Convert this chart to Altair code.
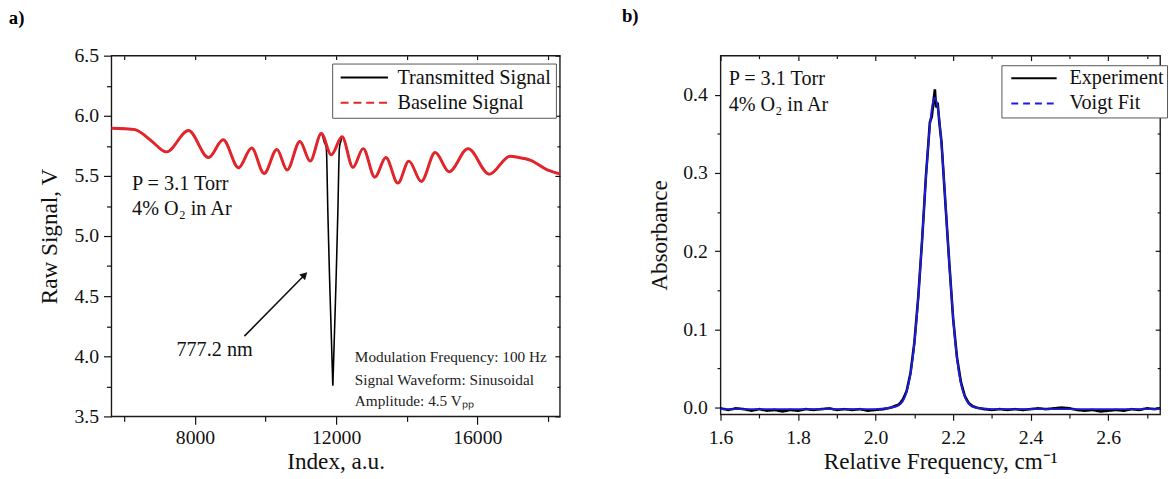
import altair as alt
import pandas as pd

FONT = "Liberation Serif"

# ---------------- panel a data ----------------
base_x = [5630, 6000, 6300, 6750, 7192, 7814, 8383, 8798, 9233, 9606, 9958, 10321, 10611, 10973,
          11263, 11581, 11860, 12168, 12476, 12766, 13097, 13408, 13750, 14061, 14413, 14807, 15200,
          15739, 16340, 16930, 17150, 17500, 18000, 18340]
base_y = [5.896, 5.893, 5.885, 5.795, 5.700, 5.877, 5.653, 5.800, 5.568, 5.732, 5.520, 5.720, 5.550, 5.787,
          5.623, 5.852, 5.675, 5.825, 5.571, 5.727, 5.489, 5.653, 5.440, 5.623, 5.454, 5.694, 5.535,
          5.727, 5.514, 5.664, 5.655, 5.631, 5.549, 5.518]
dip_x = [11581, 11665, 11721, 11765, 11813, 11860, 11896, 11906, 11916, 11953, 12000, 12048, 12092, 12135, 12168]
dip_y = [5.852, 5.780, 5.730, 5.200, 4.660, 4.200, 3.850, 3.760, 3.850, 4.200, 4.660, 5.200, 5.730, 5.790, 5.825]
series_a = ["Transmitted Signal", "Baseline Signal"]

big_text_a = ["P = 3.1 Torr", "4% O\u2082 in Ar", "777.2 nm"]
big_text_a_x = [6217, 6217, 7473]
big_text_a_y = [5.431, 5.226, 4.055]
small_text_a = ["Modulation Frequency: 100 Hz", "Signal Waveform: Sinusoidal", "Amplitude: 4.5 V\u209a\u209a"]
small_text_a_x = [12529, 12529, 12529]
small_text_a_y = [3.993, 3.801, 3.624]
arrow_from = [9400, 4.168]
arrow_to = [11084, 4.670]

# ---------------- panel b data ----------------
exp_x = [1.60, 1.62, 1.64, 1.66, 1.68, 1.70, 1.72, 1.74, 1.76, 1.78, 1.80, 1.82, 1.84, 1.86, 1.88, 1.90,
         1.92, 1.94, 1.96, 1.98, 2.00, 2.02, 2.04,
         2.05, 2.06, 2.07, 2.08, 2.09, 2.10, 2.11, 2.12, 2.13,
         2.135, 2.14, 2.145, 2.15, 2.153, 2.156, 2.16, 2.165, 2.17,
         2.18, 2.19, 2.20, 2.21, 2.22, 2.23, 2.24, 2.25, 2.26, 2.27,
         2.28, 2.30, 2.32, 2.34, 2.36, 2.38, 2.40, 2.42, 2.44, 2.46, 2.48, 2.50, 2.52, 2.54, 2.56, 2.58,
         2.60, 2.62, 2.64, 2.66, 2.68, 2.70, 2.72, 2.734]
exp_y = [-0.001, -0.003, -0.001, -0.002, -0.004, -0.002, -0.004, -0.003, -0.005, -0.003, -0.004, -0.002,
         -0.003, -0.002, -0.001, -0.003, -0.002, -0.003, -0.002, -0.004, -0.003, -0.002, 0.000,
         0.002, 0.004, 0.010, 0.021, 0.044, 0.083, 0.141, 0.214, 0.297,
         0.330, 0.365, 0.372, 0.395, 0.407, 0.384, 0.390, 0.362, 0.340,
         0.262, 0.186, 0.114, 0.064, 0.033, 0.015, 0.006, 0.002, 0.000, -0.001,
         -0.002, -0.003, -0.002, -0.003, -0.002, -0.003, -0.002, -0.001, -0.002, -0.001, 0.000, -0.001,
         -0.003, -0.004, -0.003, -0.005, -0.004, -0.003, -0.004, -0.002, -0.003, -0.001, -0.002, -0.001]
fit_x = [1.60, 2.00, 2.03, 2.05, 2.06, 2.07, 2.08, 2.09, 2.10, 2.11, 2.12, 2.13, 2.14, 2.15, 2.153,
         2.16, 2.17, 2.18, 2.19, 2.20, 2.21, 2.22, 2.23, 2.24, 2.25, 2.27, 2.30, 2.734]
fit_y = [-0.002, -0.002, -0.001, 0.001, 0.003, 0.008, 0.020, 0.043, 0.082, 0.140, 0.215, 0.295, 0.360,
         0.394, 0.396, 0.385, 0.337, 0.263, 0.184, 0.115, 0.063, 0.031, 0.014, 0.005, 0.001, -0.001,
         -0.002, -0.002]
series_b = ["Experiment", "Voigt Fit"]
big_text_b = ["P = 3.1 Torr"]
big_text_b_x = [1.621]
big_text_b_y = [0.420]
big_text_b2 = ["4% O\u2082 in Ar"]
big_text_b2_x = [1.621]
big_text_b2_y = [0.3875]

# ---------------- helpers ----------------
INK = "#111111"


def axis(orient, values, size, inward=False, labels=False, title=None, fmt=None, **kw):
    d = dict(orient=orient, values=values, grid=False, domain=False, labels=labels,
             tickColor=INK, tickWidth=1.2, labelFlush=False, labelOverlap=False,
             labelFont=FONT, titleFont=FONT, labelFontSize=20, titleFontSize=23.5,
             titleFontWeight="normal", labelColor=INK, titleColor=INK)
    d["tickSize"] = {"expr": str(-size)} if inward else size
    d["title"] = title
    if fmt:
        d["format"] = fmt
    d.update(kw)
    return alt.Axis(**d)


def legend(lx, ly, sym, symoff, laboff, pad):
    return alt.Legend(title=None, orient="none", legendX=lx, legendY=ly, direction="vertical",
                      symbolType="stroke", symbolSize=sym, symbolStrokeWidth=2, symbolOffset=symoff,
                      labelOffset=laboff, labelFont=FONT, labelFontSize=20.5, labelColor=INK,
                      labelLimit=400, padding=pad, rowPadding=4.5, clipHeight=20.5,
                      strokeColor="#555555", fillColor="white")


# ---------------- panel a ----------------
xa = alt.Scale(domain=[5630, 18340], nice=False, zero=False)
ya = alt.Scale(domain=[3.5, 6.5], nice=False, zero=False)
xa_major = [8000, 12000, 16000]
xa_minor = [6000, 10000, 14000, 18000]
ya_major = [3.5, 4.0, 4.5, 5.0, 5.5, 6.0, 6.5]
ya_minor = [3.75, 4.25, 4.75, 5.25, 5.75, 6.25]

leg_a = legend(224, 8, 2304, 3.6, 8.6, 4)
col_a = alt.Color("series:N", scale=alt.Scale(domain=series_a, range=["#000000", "#e3242b"]), legend=leg_a)
dash_a = alt.StrokeDash("series:N", scale=alt.Scale(domain=series_a, range=[[1, 0], [8, 5]]), legend=leg_a)

trans_pts = [(x, y) for x, y in zip(base_x, base_y) if x < dip_x[0]] + list(zip(dip_x, dip_y)) + \
            [(x, y) for x, y in zip(base_x, base_y) if x > dip_x[-1]]
df_trans = pd.DataFrame({"x": [p[0] for p in trans_pts], "y": [p[1] for p in trans_pts],
                         "series": series_a[0]})
df_base = pd.DataFrame({"x": base_x, "y": base_y, "series": series_a[1]})

l_trans = alt.Chart(df_trans).mark_line(strokeWidth=1.6, interpolate="monotone").encode(
    x=alt.X("x:Q", scale=xa, axis=axis("bottom", xa_major, 8, labels=True, title="Index, a.u.", fmt="d",
                                        labelPadding=3, titlePadding=3)),
    y=alt.Y("y:Q", scale=ya, axis=axis("left", ya_major, 8, labels=True, title="Raw Signal, V", fmt=".1f",
                                        labelPadding=5, titlePadding=13)),
    color=col_a, strokeDash=dash_a, order=alt.Order("x:Q"))
l_base = alt.Chart(df_base).mark_line(strokeWidth=3, interpolate="monotone").encode(
    x=alt.X("x:Q", scale=xa, axis=axis("bottom", xa_minor, 5)),
    y=alt.Y("y:Q", scale=ya, axis=axis("left", ya_minor, 5)),
    color=col_a, order=alt.Order("x:Q"))

df_big_a = pd.DataFrame({"x": big_text_a_x, "y": big_text_a_y, "t": big_text_a})
df_small_a = pd.DataFrame({"x": small_text_a_x, "y": small_text_a_y, "t": small_text_a})
l_bigtxt_a = alt.Chart(df_big_a).mark_text(font=FONT, fontSize=20.5, align="left", baseline="middle",
                                           color=INK).encode(
    x=alt.X("x:Q", scale=xa, axis=axis("top", xa_major + xa_minor, 4, inward=True)),
    y=alt.Y("y:Q", scale=ya, axis=axis("right", ya_major, 5, inward=True)),
    text="t:N")
l_smalltxt_a = alt.Chart(df_small_a).mark_text(font=FONT, fontSize=15.5, align="left", baseline="middle",
                                               color="#222222").encode(
    x=alt.X("x:Q", scale=xa, axis=axis("top", [5630], 0.1, inward=True)),
    y=alt.Y("y:Q", scale=ya, axis=axis("right", ya_minor, 3, inward=True)),
    text="t:N")
df_arrow = pd.DataFrame({"x": [arrow_from[0]], "y": [arrow_from[1]], "x2": [arrow_to[0]], "y2": [arrow_to[1]]})
l_arrow = alt.Chart(df_arrow).mark_rule(strokeWidth=1.6, color=INK).encode(
    x=alt.X("x:Q", scale=xa, axis=None), y=alt.Y("y:Q", scale=ya, axis=None), x2="x2:Q", y2="y2:Q")
l_head = alt.Chart(df_arrow).mark_point(shape="triangle", filled=True, size=70, angle=45, color=INK,
                                        opacity=1).encode(
    x=alt.X("x2:Q", scale=xa, axis=None), y=alt.Y("y2:Q", scale=ya, axis=None))
l_lab_a = alt.Chart(pd.DataFrame({"t": ["a)"]})).mark_text(
    font=FONT, fontSize=19, fontWeight="bold", align="left", baseline="middle", color="#000000").encode(
    x=alt.value(-104), y=alt.value(-37.7), text="t:N")

panel_a = alt.layer(l_trans, l_base, l_bigtxt_a, l_smalltxt_a, l_arrow, l_head, l_lab_a).resolve_axis(
    x="independent", y="independent").properties(width=455, height=366)

# ---------------- panel b ----------------
xb = alt.Scale(domain=[1.6, 2.734], nice=False, zero=False)
yb = alt.Scale(domain=[-0.0088, 0.4502], nice=False, zero=False)
xb_major = [1.6, 1.8, 2.0, 2.2, 2.4, 2.6]
xb_minor = [1.7, 1.9, 2.1, 2.3, 2.5, 2.7]
yb_major = [0.0, 0.1, 0.2, 0.3, 0.4]
yb_minor = [0.05, 0.15, 0.25, 0.35]

leg_b = legend(285, 9.7, 2116, 6, 12, 3)
col_b = alt.Color("series:N", scale=alt.Scale(domain=series_b, range=["#000000", "#1c1cdc"]), legend=leg_b)
dash_b = alt.StrokeDash("series:N", scale=alt.Scale(domain=series_b, range=[[1, 0], [7, 5]]), legend=leg_b)

df_exp = pd.DataFrame({"x": exp_x, "y": exp_y, "series": series_b[0]})
df_fit = pd.DataFrame({"x": fit_x, "y": fit_y, "series": series_b[1]})
l_exp = alt.Chart(df_exp).mark_line(strokeWidth=2.6).encode(
    x=alt.X("x:Q", scale=xb, axis=axis("bottom", xb_major, 6, labels=True,
                                        title="Relative Frequency, cm\u207b\u00b9", fmt=".1f",
                                        labelPadding=7, titlePadding=3)),
    y=alt.Y("y:Q", scale=yb, axis=axis("left", yb_major, 6, labels=True, title="Absorbance", fmt=".1f",
                                        labelPadding=7.4, titlePadding=11.5)),
    color=col_b, strokeDash=dash_b, order=alt.Order("x:Q"))
l_fit = alt.Chart(df_fit).mark_line(strokeWidth=2, interpolate="monotone").encode(
    x=alt.X("x:Q", scale=xb, axis=axis("bottom", xb_minor, 3.5)),
    y=alt.Y("y:Q", scale=yb, axis=axis("left", yb_minor, 3.5)),
    color=col_b, order=alt.Order("x:Q"))
l_txt_b1 = alt.Chart(pd.DataFrame({"x": big_text_b_x, "y": big_text_b_y, "t": big_text_b})).mark_text(
    font=FONT, fontSize=20.5, align="left", baseline="middle", color=INK).encode(
    x=alt.X("x:Q", scale=xb, axis=axis("top", xb_major, 5, inward=True)),
    y=alt.Y("y:Q", scale=yb, axis=axis("right", yb_major, 5, inward=True)),
    text="t:N")
l_txt_b2 = alt.Chart(pd.DataFrame({"x": big_text_b2_x, "y": big_text_b2_y, "t": big_text_b2})).mark_text(
    font=FONT, fontSize=20.5, align="left", baseline="middle", color=INK).encode(
    x=alt.X("x:Q", scale=xb, axis=axis("top", xb_minor, 3, inward=True)),
    y=alt.Y("y:Q", scale=yb, axis=axis("right", yb_minor, 3, inward=True)),
    text="t:N")
l_lab_b = alt.Chart(pd.DataFrame({"t": ["b)"]})).mark_text(
    font=FONT, fontSize=19, fontWeight="bold", align="left", baseline="middle", color="#000000").encode(
    x=alt.value(-100), y=alt.value(-40.3), text="t:N")

panel_b = alt.layer(l_exp, l_fit, l_txt_b1, l_txt_b2, l_lab_b).resolve_axis(
    x="independent", y="independent").properties(width=446, height=364)

chart = alt.hconcat(panel_a, panel_b, spacing=55).resolve_scale(
    color="independent", strokeDash="independent"
).properties(
    padding={"left": 8, "top": 3, "right": 0, "bottom": 0},
    background="white",
).configure_view(stroke="#1a1a1a", strokeWidth=1.4).configure_axis(
    labelFont=FONT, titleFont=FONT, labelFontSize=20, titleFontSize=23.5, titleFontWeight="normal",
    labelColor=INK, titleColor=INK,
).configure_text(font=FONT)

chart.save("out.html", embed_options={"renderer": "svg", "actions": False})
